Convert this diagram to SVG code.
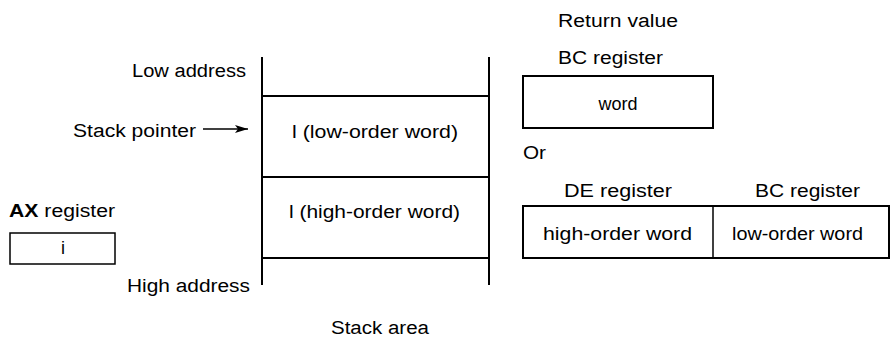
<svg xmlns="http://www.w3.org/2000/svg" width="892" height="341" viewBox="0 0 892 341">
<defs>
<style>
text{font-family:"Liberation Sans",Arial,sans-serif;font-size:18px;fill:#000}
.c{text-anchor:middle}
.ln{stroke:#000;stroke-width:2;fill:none}
.box{stroke:#000;stroke-width:2;fill:#fff}
.thin{stroke:#000;stroke-width:1.5;fill:#fff}
</style>
<marker id="ah" markerWidth="13" markerHeight="8" refX="13" refY="4" orient="auto" markerUnits="userSpaceOnUse">
<path d="M0,0 L13,4 L0,8 L3,4 Z" fill="#000"/>
</marker>
</defs>
<rect width="892" height="341" fill="#fff"/>

<g id="stack">
<line class="ln" x1="262" y1="57" x2="262" y2="285"/>
<line class="ln" x1="489" y1="57" x2="489" y2="285"/>
<line class="ln" x1="262" y1="96" x2="489" y2="96"/>
<line class="ln" x1="262" y1="177" x2="489" y2="177"/>
<line class="ln" x1="262" y1="258" x2="489" y2="258"/>
<text x="292" y="138" textLength="166" lengthAdjust="spacingAndGlyphs">l (low-order word)</text>
<text x="289" y="218" textLength="171" lengthAdjust="spacingAndGlyphs">l (high-order word)</text>
<text x="331" y="334" textLength="98" lengthAdjust="spacingAndGlyphs">Stack area</text>
</g>

<g id="labels">
<text x="132" y="77" textLength="114" lengthAdjust="spacingAndGlyphs">Low address</text>
<text x="73" y="137" textLength="123" lengthAdjust="spacingAndGlyphs">Stack pointer</text>
<text x="127" y="292" textLength="123" lengthAdjust="spacingAndGlyphs">High address</text>
</g>

<g id="ax">
<text x="9" y="217" textLength="106" lengthAdjust="spacingAndGlyphs"><tspan font-weight="bold">AX</tspan> register</text>
<rect class="thin" x="10" y="233" width="105" height="31"/>
<text class="c" x="63" y="254">i</text>
</g>

<g id="ret">
<text x="558" y="27" textLength="120" lengthAdjust="spacingAndGlyphs">Return value</text>
<text x="558" y="64" textLength="105" lengthAdjust="spacingAndGlyphs">BC register</text>
<rect class="box" x="523" y="76" width="190" height="52"/>
<text x="598.5" y="110" textLength="39" lengthAdjust="spacingAndGlyphs">word</text>
<text x="523" y="159" textLength="23" lengthAdjust="spacingAndGlyphs">Or</text>
</g>

<g id="pair">
<text x="564" y="197" textLength="108" lengthAdjust="spacingAndGlyphs">DE register</text>
<text x="755" y="197" textLength="105" lengthAdjust="spacingAndGlyphs">BC register</text>
<rect class="box" x="523" y="206" width="366" height="52"/>
<line stroke="#000" stroke-width="1.5" x1="713" y1="206" x2="713" y2="258"/>
<text x="543" y="240" textLength="149" lengthAdjust="spacingAndGlyphs">high-order word</text>
<text x="732" y="240" textLength="131" lengthAdjust="spacingAndGlyphs">low-order word</text>
</g>

<g id="connectors">
<line x1="203" y1="129" x2="248" y2="129" stroke="#000" stroke-width="1.5" marker-end="url(#ah)"/>
</g>
</svg>
